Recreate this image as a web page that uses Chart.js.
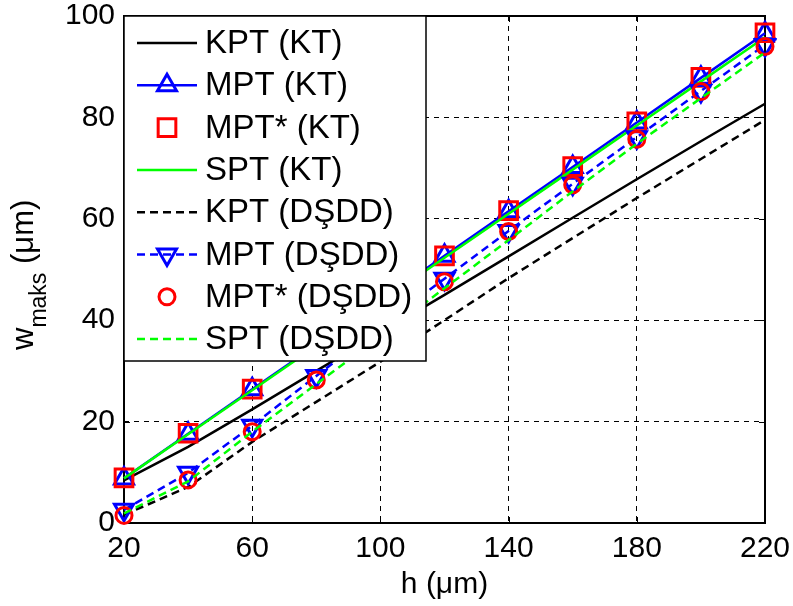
<!DOCTYPE html>
<html>
<head>
<meta charset="utf-8">
<script src="https://cdn.jsdelivr.net/npm/chart.js@4/dist/chart.umd.min.js"></script>
<style>
  html, body { margin: 0; padding: 0; background: #fff; }
  canvas { display: block; }
</style>
</head>
<body>
<canvas id="wChart" width="793" height="606"></canvas>
<script>
// ---- data ----
const hValues = [20, 40, 60, 80, 100, 120, 140, 160, 180, 200, 220];
const xTicks = [20, 60, 100, 140, 180, 220];
const yTicks = [0, 20, 40, 60, 80, 100];

const kptKT     = [8.4, 15.0, 22.4, 30.0, 37.5, 45.0, 52.6, 60.2, 67.8, 75.3, 82.7];
const mptKT     = [8.8, 17.6, 26.4, 35.1, 43.9, 52.7, 61.5, 70.2, 79.0, 87.8, 96.6];
const mptStarKT = [8.9, 17.7, 26.4, 35.2, 44.0, 52.7, 61.6, 70.3, 79.1, 87.9, 96.7];
const sptKT     = [8.8, 17.5, 26.2, 34.9, 43.6, 52.3, 61.0, 69.7, 78.4, 87.1, 95.8];
const kptDS     = [1.6, 7.1, 16.0, 23.9, 31.8, 40.0, 48.3, 56.2, 64.1, 71.8, 79.5];
const mptDS     = [2.6, 9.9, 19.2, 29.0, 38.7, 48.2, 57.6, 66.9, 76.1, 85.2, 94.3];
const mptStarDS = [1.5, 8.5, 18.0, 28.2, 37.8, 47.6, 57.5, 66.7, 75.7, 85.1, 94.0];
const sptDS     = [1.9, 8.2, 18.0, 27.4, 36.8, 46.3, 55.8, 65.4, 74.8, 83.8, 92.8];

const FONT = "'Liberation Sans', Arial, Helvetica, sans-serif";
const BLUE = '#0000ff', RED = '#ff0000', GREEN = '#00ff00', BLACK = '#000000';
const DASH = [8, 5];

// label, values, color, dashed, line?, marker
const seriesDefs = [
    ['KPT (KT)',     kptKT,     BLACK, false, true,  false],
    ['MPT (KT)',     mptKT,     BLUE,  false, true,  'triangle'],
    ['MPT* (KT)',    mptStarKT, RED,   false, false, 'rect'],
    ['SPT (KT)',     sptKT,     GREEN, false, true,  false],
    ['KPT (DŞDD)',   kptDS,     BLACK, true,  true,  false],
    ['MPT (DŞDD)',   mptDS,     BLUE,  true,  true,  'triangleDown'],
    ['MPT* (DŞDD)',  mptStarDS, RED,   false, false, 'circle'],
    ['SPT (DŞDD)',   sptDS,     GREEN, true,  true,  false]
];

const markerRadius = { triangle: 11, triangleDown: 11, rect: 12.5, circle: 8 };

const datasets = seriesDefs.map(([label, vals, color, dashed, line, marker], i) => ({
    label: label,
    data: hValues.map((h, j) => ({ x: h, y: vals[j] })),
    borderColor: color,
    borderWidth: 2.5,
    borderDash: dashed ? DASH : [],
    showLine: line,
    tension: 0,
    pointStyle: marker === 'triangleDown' ? 'triangle' : (marker || 'circle'),
    rotation: marker === 'triangleDown' ? 180 : 0,
    pointRadius: marker ? markerRadius[marker] : 0,
    pointHoverRadius: marker ? markerRadius[marker] : 0,
    pointBorderColor: color,
    pointBackgroundColor: 'rgba(0,0,0,0)',
    pointBorderWidth: 3,
    clip: false,
    order: seriesDefs.length - i
}));

// small marker drawer for the legend, same geometry as Chart.js
function drawMarker(ctx, style, x, y, r) {
    ctx.beginPath();
    if (style === 'circle') {
        ctx.arc(x, y, r, 0, Math.PI * 2);
    } else if (style === 'rect') {
        const s = Math.SQRT1_2 * r;
        ctx.rect(x - s, y - s, 2 * s, 2 * s);
    } else {
        const dir = style === 'triangleDown' ? -1 : 1;
        const w = r * Math.sin(Math.PI / 3);
        ctx.moveTo(x, y - dir * r);
        ctx.lineTo(x + w, y + dir * r / 2);
        ctx.lineTo(x - w, y + dir * r / 2);
        ctx.closePath();
    }
    ctx.stroke();
}

const framePlugin = {
    id: 'frame',
    beforeDatasetsDraw(chart) {
        const { ctx, chartArea: a, scales } = chart;
        ctx.save();
        ctx.strokeStyle = '#000';
        ctx.lineWidth = 1;
        // inward tick marks
        ctx.beginPath();
        xTicks.forEach(v => {
            const px = Math.round(scales.x.getPixelForValue(v)) + 0.5;
            ctx.moveTo(px, a.bottom); ctx.lineTo(px, a.bottom - 6);
            ctx.moveTo(px, a.top); ctx.lineTo(px, a.top + 6);
        });
        yTicks.forEach(v => {
            const py = Math.round(scales.y.getPixelForValue(v)) + 0.5;
            ctx.moveTo(a.left, py); ctx.lineTo(a.left + 6, py);
            ctx.moveTo(a.right, py); ctx.lineTo(a.right - 6, py);
        });
        ctx.stroke();
        ctx.lineWidth = 2;
        ctx.strokeRect(a.left, a.top, a.right - a.left, a.bottom - a.top);
        ctx.restore();
    },
    afterDatasetsDraw(chart) {
        const { ctx, chartArea: a } = chart;
        // legend box, top left inside the axes
        const bx = a.left, by = a.top, bw = 302, bh = 345;
        ctx.save();
        ctx.fillStyle = '#fff';
        ctx.fillRect(bx, by, bw, bh);
        ctx.strokeStyle = '#000';
        ctx.lineWidth = 1.5;
        ctx.strokeRect(bx, by, bw, bh);
        ctx.font = '33px ' + FONT;
        ctx.textBaseline = 'middle';
        ctx.textAlign = 'left';
        seriesDefs.forEach(([label, vals, color, dashed, line, marker], i) => {
            const y = by + 27 + i * 42.3;
            ctx.strokeStyle = color;
            if (line) {
                ctx.lineWidth = 2.5;
                ctx.setLineDash(dashed ? DASH : []);
                ctx.beginPath();
                ctx.moveTo(bx + 13, y);
                ctx.lineTo(bx + 73, y);
                ctx.stroke();
                ctx.setLineDash([]);
            }
            if (marker) {
                ctx.lineWidth = 3;
                drawMarker(ctx, marker, bx + 43, y, markerRadius[marker]);
            }
            ctx.fillStyle = '#000';
            ctx.fillText(label, bx + 81, y + 1);
        });
        ctx.restore();
    },
    afterDraw(chart) {
        const { ctx, chartArea: a } = chart;
        ctx.save();
        ctx.fillStyle = '#000';
        // x axis title
        ctx.font = '30px ' + FONT;
        ctx.textAlign = 'center';
        ctx.textBaseline = 'middle';
        ctx.fillText('h (μm)', (a.left + a.right) / 2, 585);
        // y axis title with subscript
        ctx.translate(33, 350);
        ctx.rotate(-Math.PI / 2);
        ctx.textAlign = 'left';
        ctx.textBaseline = 'alphabetic';
        ctx.font = '31px ' + FONT;
        ctx.fillText('w', 0, 0);
        let off = ctx.measureText('w').width;
        ctx.font = '23px ' + FONT;
        ctx.fillText('maks', off, 13);
        off += ctx.measureText('maks').width;
        ctx.font = '31px ' + FONT;
        ctx.fillText(' (μm)', off, 0);
        ctx.restore();
    }
};

new Chart(document.getElementById('wChart'), {
    type: 'line',
    data: { datasets: datasets },
    plugins: [framePlugin],
    options: {
        responsive: false,
        animation: false,
        devicePixelRatio: 1,
        layout: { padding: { left: 0, right: 28, top: 16, bottom: 0 } },
        plugins: {
            legend: { display: false },
            tooltip: { enabled: false }
        },
        scales: {
            x: {
                type: 'linear',
                min: 20,
                max: 220,
                afterBuildTicks: (s) => { s.ticks = xTicks.map(v => ({ value: v })); },
                afterFit: (s) => {
                    s.height = 83;
                    s.paddingLeft = 0; s.paddingRight = 0;
                },
                ticks: {
                    color: '#000',
                    font: { family: FONT, size: 30 },
                    padding: 8,
                    maxRotation: 0
                },
                grid: { color: '#000', lineWidth: 1, drawTicks: false },
                border: { display: false, dash: [5, 5] }
            },
            y: {
                min: 0,
                max: 100,
                afterBuildTicks: (s) => { s.ticks = yTicks.map(v => ({ value: v })); },
                afterFit: (s) => {
                    s.width = 124;
                    s.paddingTop = 0; s.paddingBottom = 0;
                },
                ticks: {
                    color: '#000',
                    font: { family: FONT, size: 30 },
                    padding: 9
                },
                grid: { color: '#000', lineWidth: 1, drawTicks: false },
                border: { display: false, dash: [5, 5] }
            }
        }
    }
});
</script>
</body>
</html>
